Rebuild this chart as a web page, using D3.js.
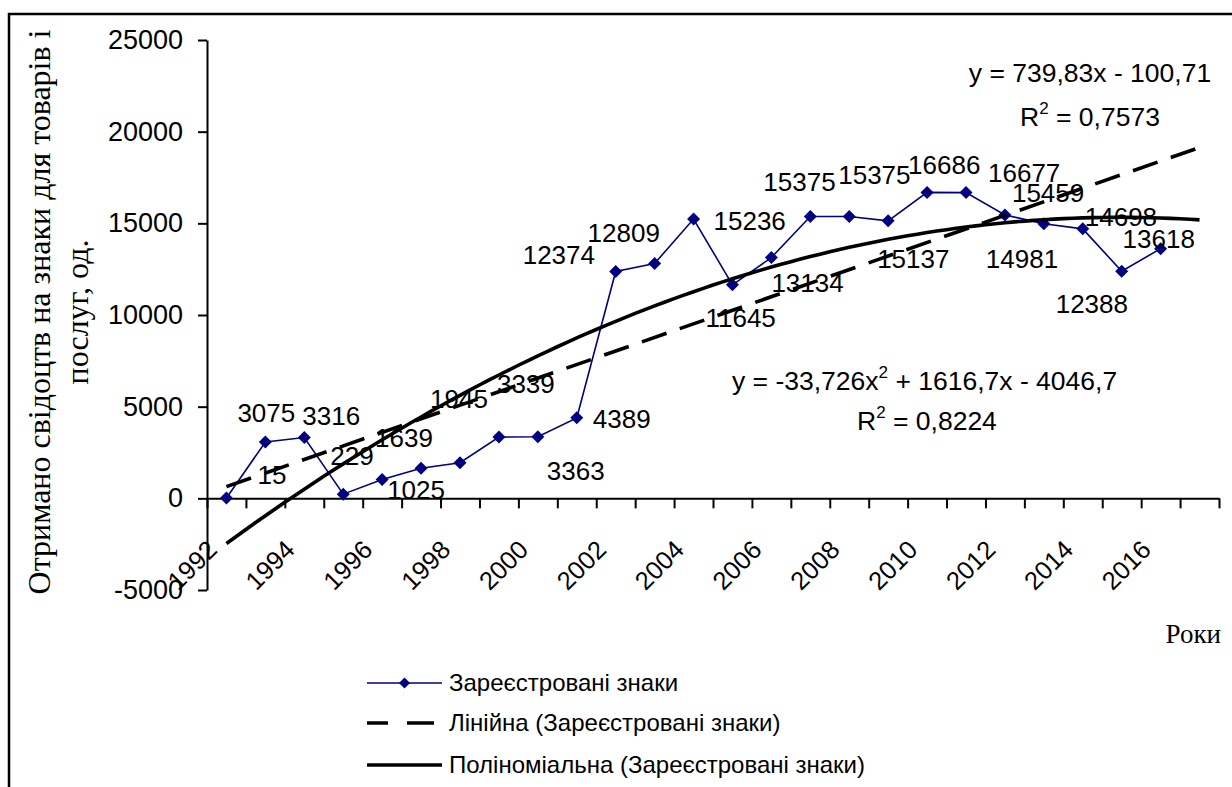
<!DOCTYPE html>
<html>
<head>
<meta charset="utf-8">
<script src="https://cdn.jsdelivr.net/npm/d3@7"></script>
<style>
  body { margin: 0; background: #fff; }
  svg { display: block; }
</style>
</head>
<body>
<svg id="chart" width="1232" height="787"></svg>
<script>
// Registered trademark certificates by year
const years = [1992, 1993, 1994, 1995, 1996, 1997, 1998, 1999, 2000, 2001, 2002, 2003, 2004,
               2005, 2006, 2007, 2008, 2009, 2010, 2011, 2012, 2013, 2014, 2015, 2016];
const registered = [15, 3075, 3316, 229, 1025, 1639, 1945, 3339, 3363, 4389, 12374, 12809, 15236,
                    11645, 13134, 15375, 15375, 15137, 16686, 16677, 15459, 14981, 14698, 12388, 13618];
const yTicks = [-5000, 0, 5000, 10000, 15000, 20000, 25000];

// Trend line coefficients (x = period number, 1..n)
const linearCoef = [739.83, -100.71];          // slope, intercept
const polyCoef = [-33.726, 1616.7, -4046.7];   // a·x² + b·x + c
const forecastPeriods = 1;

const seriesNames = ["Зареєстровані знаки",
                     "Лінійна (Зареєстровані знаки)",
                     "Поліноміальна (Зареєстровані знаки)"];

// Data label placement relative to each marker (left edge, baseline)
const labelOffsets = [[31, -14], [-28, -20], [-2, -13], [-13, -29], [5, 19], [-46, -21],
                      [-30, -55], [-2, -44], [9, 43], [16, 10], [-93, -7], [-67, -22],
                      [20, 11], [-27, 42], [0, 34], [-47, -25], [-11, -32], [-11, 47],
                      [-19, -18], [22, -11], [7, -13], [-58, 44], [2, -3], [-66, 42], [-38, -1]];

const svg = d3.select("#chart");
const nPeriods = registered.length + forecastPeriods;

const x = d3.scaleLinear().domain([0.5, nPeriods + 0.5]).range([207, 1219]);
const y = d3.scaleLinear().domain([-5000, 25000]).range([590, 40]);

const navy = "#000080";
const sans = "Arial, 'Liberation Sans', sans-serif";
const serif = "'Times New Roman', 'Liberation Serif', serif";

// Outer chart frame
svg.append("rect")
  .attr("x", 9).attr("y", 14).attr("width", 1260).attr("height", 820)
  .attr("fill", "none").attr("stroke", "#000").attr("stroke-width", 2.5);

// Y axis
const yAxis = svg.append("g")
  .attr("transform", `translate(${x.range()[0]},0)`)
  .call(d3.axisLeft(y).tickValues(yTicks).tickSize(9).tickSizeOuter(0)
        .tickPadding(15).tickFormat(d => String(d)));
yAxis.selectAll("path, line").attr("stroke", "#000").attr("stroke-width", 2);
yAxis.selectAll("text").attr("font-family", sans).attr("font-size", 27).attr("fill", "#000");

// X axis (category boundaries as ticks)
const xAxis = svg.append("g")
  .attr("transform", `translate(0,${y(0)})`)
  .call(d3.axisBottom(x).tickValues(d3.range(0.5, nPeriods + 1, 1)).tickSize(10)
        .tickSizeOuter(0).tickFormat(""));
xAxis.selectAll("path, line").attr("stroke", "#000").attr("stroke-width", 2);

// Year labels on every other category
svg.append("g").selectAll("text")
  .data(years.map((yr, i) => ({ yr, p: i + 1 })).filter((d, i) => i % 2 === 0))
  .join("text")
  .attr("transform", d => `translate(${x(d.p) - 8},${y(0) + 53}) rotate(-45)`)
  .attr("text-anchor", "end")
  .attr("font-family", sans).attr("font-size", 25.5)
  .text(d => d.yr);

// Axis titles
const yTitle = svg.append("text")
  .attr("transform", "translate(50,312) rotate(-90)")
  .attr("text-anchor", "middle")
  .attr("font-family", serif).attr("font-size", 32);
yTitle.append("tspan").attr("x", 0).attr("y", 0).text("Отримано свідоцтв на знаки для товарів і");
yTitle.append("tspan").attr("x", 0).attr("y", 38).text("послуг, од.");

svg.append("text")
  .attr("x", 1221).attr("y", 643)
  .attr("text-anchor", "end")
  .attr("font-family", serif).attr("font-size", 27)
  .text("Роки");

// Registered marks series
const pts = registered.map((v, i) => ({ p: i + 1, v }));
svg.append("path")
  .datum(pts)
  .attr("fill", "none").attr("stroke", navy).attr("stroke-width", 1.6)
  .attr("d", d3.line().x(d => x(d.p)).y(d => y(d.v)));

const diamond = r => `M0,${-r}L${r},0L0,${r}L${-r},0Z`;
svg.append("g").selectAll("path")
  .data(pts).join("path")
  .attr("transform", d => `translate(${x(d.p)},${y(d.v)})`)
  .attr("d", diamond(6.5))
  .attr("fill", navy);

// Data labels
svg.append("g").selectAll("text")
  .data(pts).join("text")
  .attr("x", (d, i) => x(d.p) + labelOffsets[i][0])
  .attr("y", (d, i) => y(d.v) + labelOffsets[i][1])
  .attr("font-family", sans).attr("font-size", 26)
  .text(d => d.v);

// Linear trend (with one-period forecast)
const linPts = [1, nPeriods].map(p => ({ p, v: linearCoef[0] * p + linearCoef[1] }));
svg.append("path")
  .datum(linPts)
  .attr("fill", "none").attr("stroke", "#000").attr("stroke-width", 3.6)
  .attr("stroke-dasharray", "26,14")
  .attr("d", d3.line().x(d => x(d.p)).y(d => y(d.v)));

// Polynomial trend
const polyPts = d3.range(1, nPeriods + 0.001, 0.25)
  .map(p => ({ p, v: polyCoef[0] * p * p + polyCoef[1] * p + polyCoef[2] }));
svg.append("path")
  .datum(polyPts)
  .attr("fill", "none").attr("stroke", "#000").attr("stroke-width", 3.6)
  .attr("d", d3.line().x(d => x(d.p)).y(d => y(d.v)));

// Trend equations
function equation(lines, anchor) {
  lines.forEach(l => {
    const t = svg.append("text")
      .attr("x", l.x).attr("y", l.y)
      .attr("text-anchor", anchor)
      .attr("font-family", sans).attr("font-size", 26.5);
    l.parts.forEach(part => {
      if (part.sup) {
        t.append("tspan").attr("dy", -12).attr("font-size", 17).text(part.sup);
        t.append("tspan").attr("dy", 12).text(part.after);
      } else {
        t.append("tspan").text(part.text);
      }
    });
  });
}
equation([
  { x: 1090, y: 82, parts: [{ text: "y = 739,83x - 100,71" }] },
  { x: 1090, y: 126, parts: [{ text: "R" }, { sup: "2", after: " = 0,7573" }] }
], "middle");
equation([
  { x: 732, y: 390, parts: [{ text: "y = -33,726x" }, { sup: "2", after: " + 1616,7x - 4046,7" }] },
  { x: 857, y: 430, parts: [{ text: "R" }, { sup: "2", after: " = 0,8224" }] }
], "start");

// Legend
const legend = svg.append("g");
const legRows = [683, 723, 765];
const lx0 = 367, lx1 = 442;
legend.append("line").attr("x1", lx0).attr("x2", lx1).attr("y1", legRows[0]).attr("y2", legRows[0])
  .attr("stroke", navy).attr("stroke-width", 1.6);
legend.append("path").attr("transform", `translate(${(lx0 + lx1) / 2},${legRows[0]})`)
  .attr("d", diamond(5.5)).attr("fill", navy);
legend.append("line").attr("x1", lx0).attr("x2", lx1).attr("y1", legRows[1]).attr("y2", legRows[1])
  .attr("stroke", "#000").attr("stroke-width", 3.6).attr("stroke-dasharray", "21,19,27,40");
legend.append("line").attr("x1", lx0).attr("x2", lx1).attr("y1", legRows[2]).attr("y2", legRows[2])
  .attr("stroke", "#000").attr("stroke-width", 3.6);
legend.selectAll("text")
  .data(seriesNames).join("text")
  .attr("x", lx1 + 7).attr("y", (d, i) => legRows[i])
  .attr("dy", "0.35em")
  .attr("font-family", sans).attr("font-size", 24)
  .text(d => d);
</script>
</body>
</html>
